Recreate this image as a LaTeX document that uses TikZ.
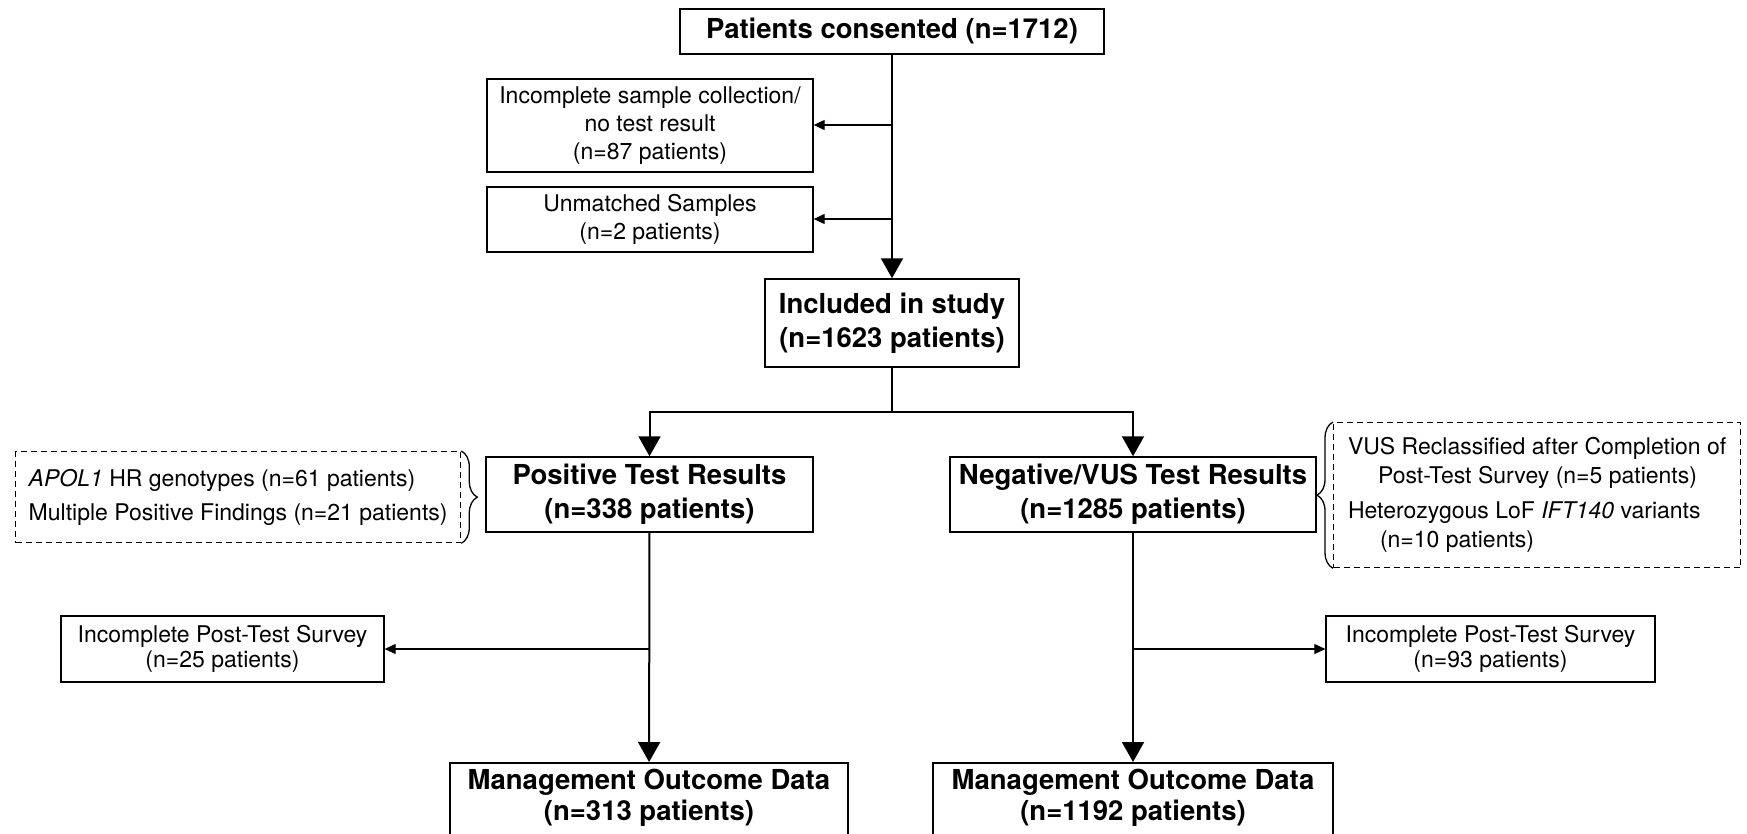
\documentclass[tikz,border=0pt]{standalone}
\usepackage{fontspec}
\setmainfont{TeX Gyre Heros}
\usetikzlibrary{arrows.meta,decorations.pathreplacing}
\begin{document}
\begin{tikzpicture}[x=1pt,y=-1pt,
  boxb/.style={draw, line width=1.5pt, align=center, inner sep=0pt,
    font=\bfseries\fontsize{27.5}{34}\selectfont},
  boxn/.style={draw, line width=1.3pt, align=center, inner sep=0pt,
    font=\fontsize{23}{28}\selectfont},
  dashbox/.style={draw, line width=1.3pt, dash pattern=on 6pt off 4pt, align=left,
    inner sep=0pt, font=\fontsize{23}{28.5}\selectfont},
  bracedeco/.style={decorate, line width=1.3pt,
    decoration={brace, amplitude=16pt, aspect=0.5}},
  mainarrow/.style={line width=2pt, -{Triangle[width=22pt,length=20pt]}},
  mainline/.style={line width=2pt},
  sidearrow/.style={line width=1.1pt, -{Triangle[width=10pt,length=11pt]}}
]
\useasboundingbox (0,0) rectangle (1747,833);
\clip (0,0) rectangle (1747,833);
\fill[white] (0,0) rectangle (1747,833);

\node[boxb, minimum width=424, minimum height=45] (top) at (892,31.5) {Patients consented (n=1712)};
\node[boxn, minimum width=326, minimum height=93] (inc1) at (650,125.5) {Incomplete sample collection/\\no test result\\(n=87 patients)};
\node[boxn, minimum width=326, minimum height=65] (inc2) at (650,219.5) {Unmatched Samples\\(n=2 patients)};
\node[boxb, minimum width=254, minimum height=88] (incl) at (892,323) {Included in study\\(n=1623 patients)};
\coordinate (split) at (892,412);
\node[boxb, minimum width=327, minimum height=75] (pos) at (649.5,494.5) {Positive Test Results\\(n=338 patients)};
\node[boxb, minimum width=366, minimum height=75] (neg) at (1133,494.5) {Negative/VUS Test Results\\(n=1285 patients)};

\node[dashbox, minimum width=445, minimum height=91, anchor=north west] (apol) at (15,451)
  {\textit{APOL1} HR genotypes (n=61 patients)\\[5.5pt]Multiple Positive Findings (n=21 patients)};
\node[dashbox, minimum width=407, minimum height=145, anchor=north west] (vus) at (1333,422)
  {VUS Reclassified after Completion of\\
   \hspace*{30pt}Post-Test Survey (n=5 patients)\\[7pt]
   Heterozygous LoF \textit{IFT140} variants\\
   \hspace*{32pt}(n=10 patients)};
\draw[bracedeco] (apol.north east) -- (apol.south east);
\draw[bracedeco] (vus.south west) -- (vus.north west);

\node[boxn, minimum width=323, minimum height=66, font=\fontsize{23}{25.5}\selectfont] (sideL) at (222.5,649) {Incomplete Post-Test Survey\\(n=25 patients)};
\node[boxn, minimum width=329, minimum height=66, font=\fontsize{23}{25.5}\selectfont] (sideR) at (1490.5,649) {Incomplete Post-Test Survey\\(n=93 patients)};
\node[boxb, minimum width=398, inner ysep=6pt, anchor=north, font=\bfseries\fontsize{27.5}{31.5}\selectfont] (mgmtL) at (649,762)
  {Management Outcome Data\\(n=313 patients)\\\rule{0pt}{40pt}};
\node[boxb, minimum width=400, inner ysep=6pt, anchor=north, font=\bfseries\fontsize{27.5}{31.5}\selectfont] (mgmtR) at (1133,762)
  {Management Outcome Data\\(n=1192 patients)\\\rule{0pt}{40pt}};

\coordinate (j1) at (892,125);
\coordinate (j2) at (892,219);
\coordinate (j3) at (649,649);
\coordinate (j4) at (1133,649);

\draw[mainarrow] (top) -- (incl);
\draw[sidearrow] (j1) -- (j1 -| inc1.east);
\draw[sidearrow] (j2) -- (j2 -| inc2.east);
\draw[mainline] (incl) -- (split);
\draw[mainarrow] (split) -| (pos);
\draw[mainarrow] (split) -| (neg);
\draw[mainarrow] (pos) -- (mgmtL);
\draw[mainarrow] (neg) -- (mgmtR);
\draw[sidearrow] (j3) -- (j3 -| sideL.east);
\draw[sidearrow] (j4) -- (j4 -| sideR.west);
\end{tikzpicture}
\end{document}
